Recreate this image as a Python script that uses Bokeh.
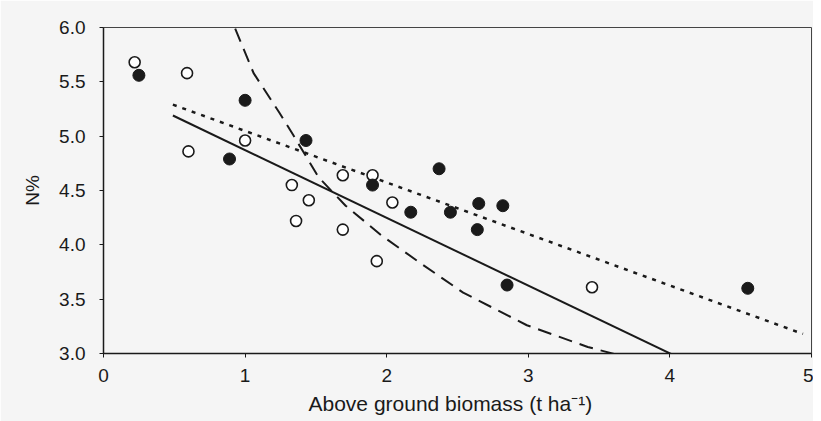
from bokeh.plotting import figure
from bokeh.models import Range1d, FixedTicker, Title, NumeralTickFormatter
from bokeh.embed import file_html
from bokeh.resources import INLINE

# open circles
open_x = [0.22, 0.59, 0.60, 1.00, 1.33, 1.36, 1.45, 1.69, 1.69, 1.90, 1.93, 2.04, 3.45]
open_y = [5.68, 5.58, 4.86, 4.96, 4.55, 4.22, 4.41, 4.64, 4.14, 4.64, 3.85, 4.39, 3.61]
# filled circles
filled_x = [0.25, 1.00, 0.89, 1.43, 1.90, 2.17, 2.37, 2.45, 2.65, 2.82, 2.64, 2.85, 4.55]
filled_y = [5.56, 5.33, 4.79, 4.96, 4.55, 4.30, 4.70, 4.30, 4.38, 4.36, 4.14, 3.63, 3.60]

# regression lines
solid_x = [0.49, 4.13]
solid_y = [5.19, 2.92]
dotted_x = [0.49, 4.94]
dotted_y = [5.29, 3.18]
# dilution curve
dashed_x = [0.93, 1.06, 1.24, 1.34, 1.52, 1.71, 1.96, 2.24, 2.54, 2.99, 3.42, 3.77]
dashed_y = [5.99, 5.58, 5.22, 5.01, 4.62, 4.36, 4.09, 3.83, 3.56, 3.26, 3.06, 2.94]

x_ticks = [0, 1, 2, 3, 4, 5]
y_ticks = [3.0, 3.5, 4.0, 4.5, 5.0, 5.5, 6.0]

BG = "#f5f5f5"
INK = "#1a1a1a"

p = figure(width=813, height=421, output_backend="svg", toolbar_location=None,
           x_range=Range1d(0, 5), y_range=Range1d(3, 6),
           min_border_left=103, min_border_right=2, min_border_top=27, min_border_bottom=68)
p.background_fill_color = BG
p.border_fill_color = BG
p.outline_line_color = "#444444"
p.outline_line_width = 1
p.grid.visible = False

p.line(solid_x, solid_y, line_color=INK, line_width=2)
p.line(dotted_x, dotted_y, line_color=INK, line_width=2.5, line_dash="4 6")
p.line(dashed_x, dashed_y, line_color=INK, line_width=2, line_dash="14 8")

p.scatter(open_x, open_y, size=11, fill_color="white", line_color=INK, line_width=1.6)
p.scatter(filled_x, filled_y, size=12, fill_color=INK, line_color=INK)

for ax in (p.xaxis[0], p.yaxis[0]):
    ax.axis_line_color = INK
    ax.axis_line_width = 1.5
    ax.major_tick_line_color = INK
    ax.major_tick_out = 4
    ax.major_tick_in = 0
    ax.minor_tick_out = 0
    ax.minor_tick_in = 0
    ax.major_label_text_font = "Liberation Sans"
    ax.major_label_text_font_size = "19px"
    ax.major_label_text_color = INK

p.xaxis.major_label_standoff = 11
p.yaxis.major_label_standoff = 14
p.xaxis.ticker = FixedTicker(ticks=x_ticks)
p.yaxis.ticker = FixedTicker(ticks=y_ticks)
p.xaxis.formatter = NumeralTickFormatter(format="0")
p.yaxis.formatter = NumeralTickFormatter(format="0.0")

p.yaxis.axis_label = "N%"
p.yaxis.axis_label_text_font = "Liberation Sans"
p.yaxis.axis_label_text_font_style = "normal"
p.yaxis.axis_label_text_font_size = "19px"
p.yaxis.axis_label_text_color = INK
p.yaxis.axis_label_standoff = 13

p.add_layout(Title(text="Above ground biomass (t ha\u207b\u00b9)", align="left", offset=205,
                   text_font="Liberation Sans", text_font_size="21px", text_color=INK,
                   text_font_style="normal", standoff=10), "below")

open("out.html", "w").write(file_html(p, INLINE))
